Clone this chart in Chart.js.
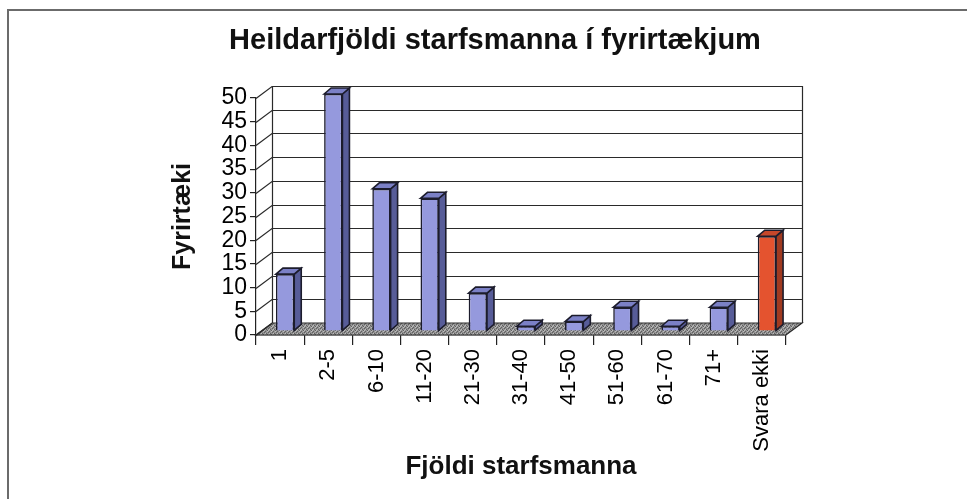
<!DOCTYPE html>
<html>
<head>
<meta charset="utf-8">
<script src="https://cdn.jsdelivr.net/npm/chart.js@4.4.1/dist/chart.umd.min.js"></script>
<style>
  html, body { margin: 0; padding: 0; background: #fff; }
  canvas { display: block; }
</style>
</head>
<body>
<canvas id="chart" width="967" height="499"></canvas>
<script>
// data
const categories = ["1", "2-5", "6-10", "11-20", "21-30", "31-40", "41-50", "51-60", "61-70", "71+", "Svara ekki"];
const companyCounts = [12, 50, 30, 28, 8, 1, 2, 5, 1, 5, 20];
const yMin = 0;
const yMax = 50;
const yStep = 5;

const chartTitle = "Heildarfjöldi starfsmanna í fyrirtækjum";
const xTitle = "Fjöldi starfsmanna";
const yTitle = "Fyrirtæki";

// look of the fake 3D box
const WALL = { dx: 16, dy: -12 };
const BAR = { dx: 7, dy: -6, shiftX: 5, shiftY: -4 };
const blueFace = { front: "#9599dd", side: "#575c98", top: "#7b80c6" };
const redFace = { front: "#e4532f", side: "#a03a20", top: "#c6472a" };
const isNoAnswer = (i) => categories[i] === "Svara ekki";

const FONT = "'Liberation Sans', Arial, sans-serif";

function floorPattern(ctx) {
  const c = document.createElement("canvas");
  c.width = 4; c.height = 4;
  const p = c.getContext("2d");
  p.fillStyle = "#939393"; p.fillRect(0, 0, 4, 4);
  p.fillStyle = "#606060";
  [[0, 0], [2, 1], [1, 3], [3, 2]].forEach(([x, y]) => p.fillRect(x, y, 1, 1));
  p.fillStyle = "#bdbdbd";
  [[1, 1], [3, 3], [0, 2]].forEach(([x, y]) => p.fillRect(x, y, 1, 1));
  return ctx.createPattern(c, "repeat");
}

function poly(ctx, pts, fill) {
  ctx.beginPath();
  ctx.moveTo(pts[0][0], pts[0][1]);
  for (let i = 1; i < pts.length; i++) ctx.lineTo(pts[i][0], pts[i][1]);
  ctx.closePath();
  ctx.fillStyle = fill;
  ctx.fill();
  ctx.stroke();
}

const box3d = {
  id: "box3d",
  beforeDraw(chart) {
    const { ctx, width, height } = chart;
    ctx.save();
    ctx.fillStyle = "#fff";
    ctx.fillRect(0, 0, width, height);
    ctx.strokeStyle = "#6b6b6b";
    ctx.lineWidth = 2;
    ctx.beginPath();
    ctx.moveTo(8, height); ctx.lineTo(8, 10); ctx.lineTo(width, 10);
    ctx.stroke();
    ctx.restore();
  },
  beforeDatasetsDraw(chart) {
    const { ctx, chartArea: a, scales: { y } } = chart;
    ctx.save();
    ctx.strokeStyle = "#2a2a2a";
    ctx.lineWidth = 1.2;
    poly(ctx, [[a.left, a.bottom], [a.right, a.bottom], [a.right + WALL.dx, a.bottom + WALL.dy], [a.left + WALL.dx, a.bottom + WALL.dy]], floorPattern(ctx));
    ctx.beginPath();
    y.ticks.forEach((t) => {
      const py = Math.round(y.getPixelForValue(t.value)) + 0.5;
      ctx.moveTo(a.left, py);
      ctx.lineTo(a.left + WALL.dx, py + WALL.dy);
      if (t.value !== yMin) ctx.lineTo(a.right + WALL.dx, py + WALL.dy);
    });
    const bx = Math.round(a.left + WALL.dx) + 0.5;
    const rx = Math.round(a.right + WALL.dx) + 0.5;
    ctx.moveTo(bx, a.top + WALL.dy); ctx.lineTo(bx, a.bottom + WALL.dy);
    ctx.moveTo(rx, a.top + WALL.dy); ctx.lineTo(rx, a.bottom + WALL.dy);
    ctx.stroke();
    ctx.restore();
    // bars stand in the middle of the floor depth
    ctx.save();
    ctx.translate(BAR.shiftX, BAR.shiftY);
  },
  afterDatasetsDraw(chart) {
    const { ctx } = chart;
    const meta = chart.getDatasetMeta(0);
    ctx.strokeStyle = "#1c1c2c";
    ctx.lineWidth = 1.6;
    meta.data.forEach((bar, i) => {
      const { x, y, base, width } = bar.getProps(["x", "y", "base", "width"], true);
      const l = x - width / 2, r = x + width / 2;
      const face = isNoAnswer(i) ? redFace : blueFace;
      poly(ctx, [[r, y], [r + BAR.dx, y + BAR.dy], [r + BAR.dx, base + BAR.dy], [r, base]], face.side);
      poly(ctx, [[l, y], [l + BAR.dx, y + BAR.dy], [r + BAR.dx, y + BAR.dy], [r, y]], face.top);
    });
    ctx.restore();
  },
  afterDraw(chart) {
    const { ctx } = chart;
    ctx.save();
    ctx.fillStyle = "#111";
    ctx.font = `bold 29px ${FONT}`;
    ctx.textAlign = "center";
    ctx.textBaseline = "middle";
    ctx.fillText(chartTitle, 495, 41);
    ctx.restore();
  }
};

new Chart(document.getElementById("chart"), {
  type: "bar",
  data: {
    labels: categories,
    datasets: [{
      data: companyCounts,
      backgroundColor: categories.map((c, i) => (isNoAnswer(i) ? redFace.front : blueFace.front)),
      borderColor: "#1c1c2c",
      borderWidth: 1.6,
      barPercentage: 0.38,
      categoryPercentage: 1
    }]
  },
  options: {
    responsive: false,
    animation: false,
    events: [],
    layout: { padding: { left: 150, right: 181, top: 98, bottom: 14 } },
    plugins: {
      legend: { display: false },
      tooltip: { enabled: false },
      title: { display: false }
    },
    scales: {
      x: {
        grid: { display: true, offset: true, drawOnChartArea: false, drawTicks: true, tickLength: 10, color: "#222", lineWidth: 1.2 },
        border: { display: true, color: "#222", width: 1.2 },
        ticks: { color: "#000", minRotation: 90, maxRotation: 90, autoSkip: false, padding: 4, font: { family: FONT, size: 22 } },
        title: { display: true, text: xTitle, color: "#111", font: { family: FONT, size: 26, weight: "bold", lineHeight: 1.2 }, padding: { top: 0, bottom: 3 } },
        afterFit: (s) => { s.height = 150; }
      },
      y: {
        min: yMin,
        max: yMax,
        grid: { display: true, drawOnChartArea: false, drawTicks: true, tickLength: 6, color: "#222", lineWidth: 1.2 },
        border: { display: true, color: "#222", width: 1.2 },
        ticks: { stepSize: yStep, autoSkip: false, color: "#000", padding: 3, font: { family: FONT, size: 23, lineHeight: 1 } },
        title: { display: true, text: yTitle, color: "#111", font: { family: FONT, size: 25, weight: "bold", lineHeight: 1.2 }, padding: { top: 18, bottom: 0 } },
        afterFit: (s) => { s.width = 106; }
      }
    }
  },
  plugins: [box3d]
});
</script>
</body>
</html>
